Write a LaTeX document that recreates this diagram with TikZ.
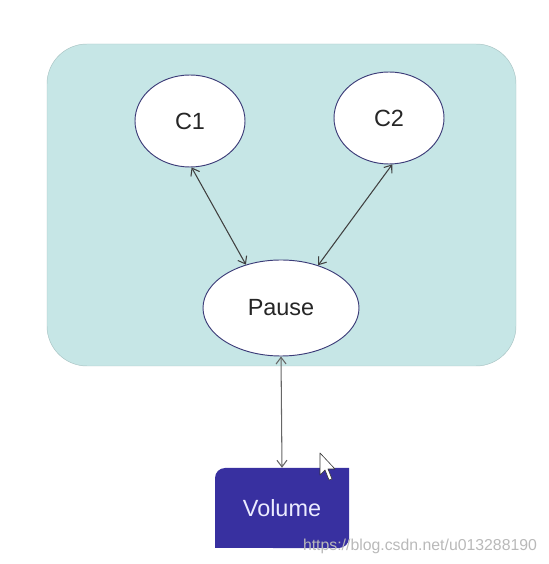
\documentclass[tikz,border=0pt]{standalone}
\usepackage{fontspec}
\setmainfont{Liberation Sans}
\usepackage{xcolor}
\usepackage{tikz}
\usetikzlibrary{arrows.meta,shapes.geometric,calc}
\definecolor{podteal}{RGB}{198,230,230}
\definecolor{rimblue}{RGB}{60,60,120}
\definecolor{volblue}{RGB}{56,48,160}

\begin{document}
\begin{tikzpicture}[line cap=round,line join=round,>={Straight Barb[length=2mm,width=3mm]},x=0.03cm,y=0.03cm,
  bubble/.style={ellipse,draw=rimblue,line width=0.8pt,fill=white,inner sep=0pt,font=\fontsize{20}{24}\selectfont,text=black!85},
  link/.style={<->,line width=0.9pt,draw=black!75}]
\useasboundingbox (0,0) rectangle (548,564);
% pod
\draw [fill=podteal,draw=podteal!85!black,line width=0.4pt,rounded corners=1.2cm] (47,198) rectangle (516,520);
\node [bubble,minimum width=3.3cm,minimum height=2.76cm] (c1) at (190,443) {C1};
\node [bubble,minimum width=3.3cm,minimum height=2.76cm] (c2) at (389,446) {C2};
\node [bubble,minimum width=4.68cm,minimum height=2.88cm] (pause) at (281,256) {Pause};
% volume
\fill [volblue] (215,16) -- (215,86) arc (180:90:0.3cm) -- (349,96) -- (349,26) arc (0:-90:0.3cm) -- cycle;
\node [minimum width=4.02cm,minimum height=2.4cm,inner sep=0pt,text=white!92!blue,font=\fontsize{20}{24}\selectfont] (vol) at (282,56) {Volume};
\draw [link] (c1.272) -- (pause.129);
\draw [link] (c2.274) -- (pause.49);
\draw [link,draw=black!60] (pause.south) -- (vol.north);
% cursor
\draw [fill=white,draw=black!80,line width=0.5pt,shift={(320,111)},yscale=-1] (0,0) -- (0,22) -- (5,17) -- (9,27) -- (12,26) -- (8,16) -- (15,16) -- cycle;
\node [text=gray!55,font=\fontsize{13.5}{16}\selectfont] (mark) at (420,18) {https://blog.csdn.net/u013288190};
\end{tikzpicture}
\end{document}
